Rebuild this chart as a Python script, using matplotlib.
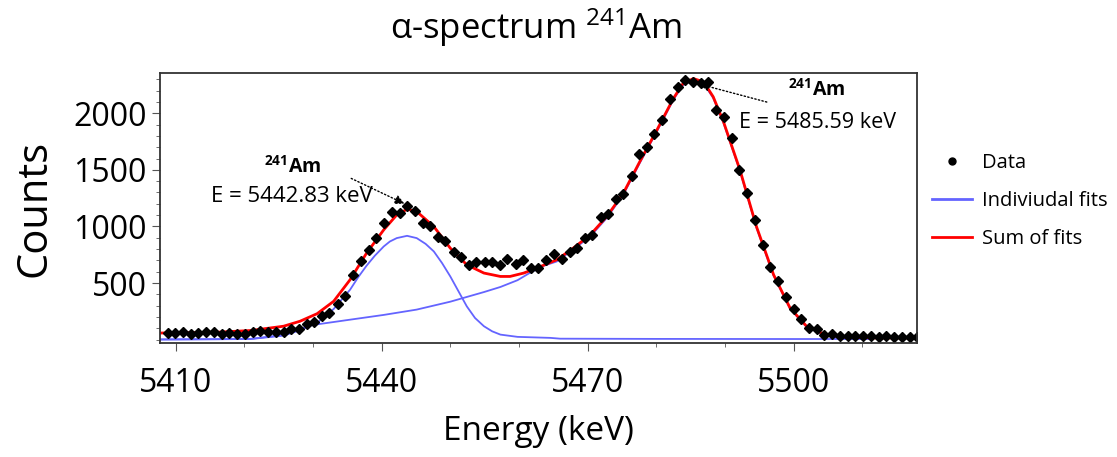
import matplotlib
matplotlib.use("Agg")
import matplotlib.pyplot as plt
from matplotlib.lines import Line2D
from matplotlib.ticker import MultipleLocator, FixedLocator

plt.rcParams['font.family'] = ['Open Sans', 'DejaVu Sans']
plt.rcParams['mathtext.fontset'] = 'custom'
plt.rcParams['mathtext.rm'] = 'Open Sans'
plt.rcParams['mathtext.bf'] = 'Open Sans:bold'
plt.rcParams['mathtext.default'] = 'regular'

# measured spectrum (channel energy in keV, counts)
energy = [5408.8, 5409.9, 5411.1, 5412.2, 5413.3, 5414.4, 5415.6, 5416.7, 5417.8, 5418.9,
          5420.1, 5421.2, 5422.3, 5423.4, 5424.6, 5425.7, 5426.8, 5427.9, 5429.1, 5430.2,
          5431.3, 5432.4, 5433.6, 5434.7, 5435.8, 5437.0, 5438.1, 5439.2, 5440.3, 5441.5,
          5442.6, 5443.7, 5444.8, 5446.0, 5447.1, 5448.2, 5449.3, 5450.5, 5451.6, 5452.7,
          5453.8, 5455.0, 5456.1, 5457.2, 5458.3, 5459.5, 5460.6, 5461.7, 5462.8, 5464.0,
          5465.1, 5466.2, 5467.4, 5468.5, 5469.6, 5470.7, 5471.9, 5473.0, 5474.1, 5475.2,
          5476.4, 5477.5, 5478.6, 5479.7, 5480.9, 5482.0, 5483.1, 5484.2, 5485.4, 5486.5,
          5487.6, 5488.7, 5489.9, 5491.0, 5492.1, 5493.2, 5494.4, 5495.5, 5496.6, 5497.8,
          5498.9, 5500.0, 5501.1, 5502.3, 5503.4, 5504.5, 5505.6, 5506.8, 5507.9, 5509.0,
          5510.1, 5511.3, 5512.4, 5513.5, 5514.6, 5515.8, 5516.9, 5518.0]
counts = [59, 59, 68, 53, 59, 68, 66, 53, 59, 53,
          53, 68, 79, 70, 70, 70, 94, 94, 141, 153,
          210, 232, 312, 382, 573, 691, 788, 897, 1032, 1130,
          1122, 1180, 1137, 1028, 1008, 911, 867, 772, 729, 661,
          683, 683, 683, 663, 712, 668, 700, 632, 632, 705,
          757, 711, 775, 808, 896, 926, 1082, 1111, 1240, 1287,
          1446, 1640, 1699, 1816, 1940, 2122, 2234, 2290, 2280, 2270,
          2278, 2028, 1966, 1778, 1499, 1293, 1058, 838, 641, 520,
          373, 270, 185, 105, 90, 44, 50, 29, 33, 29,
          28, 28, 24, 28, 24, 24, 24, 24]

# first peak (individual fit)
fit1_e = [5407.7, 5416.0, 5420.9, 5425.7, 5428.1, 5430.6, 5433.0, 5435.4, 5436.6, 5437.8,
          5439.0, 5440.3, 5441.2, 5442.2, 5443.7, 5445.1, 5446.4, 5447.6, 5448.8, 5450.0,
          5451.2, 5452.4, 5453.6, 5454.9, 5456.1, 5457.3, 5459.8, 5464.6, 5466.0, 5480.0,
          5500.0, 5511.5]
fit1_y = [2, 3, 5, 35, 82, 147, 270, 441, 553, 653,
          741, 823, 867, 897, 917, 897, 846, 779, 676, 558,
          426, 294, 191, 118, 73, 44, 24, 15, 8, 6,
          5, 5]

# second peak (individual fit)
fit2_e = [5407.7, 5420.9, 5425.7, 5429.6, 5435.4, 5440.3, 5445.1, 5450.0, 5451.9, 5454.9,
          5457.3, 5459.8, 5461.6, 5463.5, 5465.5, 5467.9, 5470.4, 5472.8, 5475.2, 5477.6,
          5480.1, 5482.5, 5483.9, 5485.4, 5486.9, 5488.3, 5489.8, 5492.2, 5494.6, 5497.1,
          5499.5, 5501.9, 5504.3, 5506.8, 5511.5]
fit2_y = [0, 6, 41, 126, 176, 218, 265, 335, 368, 420,
          465, 525, 590, 650, 690, 795, 912, 1075, 1280, 1560,
          1840, 2120, 2250, 2295, 2265, 2135, 1915, 1490, 990, 565,
          272, 112, 45, 15, 5]

# sum of fits
sum_e = [5407.7, 5416.0, 5420.9, 5425.7, 5428.1, 5430.6, 5433.0, 5435.4, 5437.8, 5440.3,
         5442.2, 5443.7, 5445.1, 5447.6, 5450.0, 5452.4, 5454.9, 5457.3, 5458.7, 5460.7,
         5462.6, 5465.5, 5467.9, 5470.4, 5472.8, 5475.2, 5477.6, 5480.1, 5482.5, 5483.9,
         5485.4, 5486.9, 5488.3, 5489.8, 5492.2, 5494.6, 5497.1, 5499.5, 5501.9, 5504.3,
         5506.8, 5511.6, 5518.0]
sum_y = [58, 65, 80, 118, 162, 229, 338, 529, 764, 970,
         1102, 1152, 1132, 999, 808, 661, 588, 558, 558, 588,
         632, 705, 808, 926, 1088, 1293, 1572, 1852, 2131, 2263,
         2307, 2278, 2146, 1925, 1499, 999, 573, 279, 118, 53,
         24, 15, 15]

peak_labels = ["E = 5442.83 keV", "E = 5485.59 keV"]

fig = plt.figure(figsize=(11.17, 4.57), dpi=100)
ax = fig.add_axes([0.1432, 0.2495, 0.6778, 0.5905])

blue = '#6464ff'
ax.plot(fit1_e, fit1_y, color=blue, lw=1.3)
ax.plot(fit2_e, fit2_y, color=blue, lw=1.3)
ax.plot(sum_e, sum_y, color='#ff0000', lw=2)
ax.plot(energy, counts, ls='', marker='D', ms=5, color='k')

ax.set_xlim(5407.7, 5518.0)
ax.set_ylim(-30, 2355)
ax.xaxis.set_major_locator(FixedLocator([5410, 5440, 5470, 5500]))
ax.xaxis.set_minor_locator(MultipleLocator(10))
ax.yaxis.set_major_locator(FixedLocator([500, 1000, 1500, 2000]))
ax.yaxis.set_minor_locator(MultipleLocator(100))
ax.tick_params(axis='both', which='major', labelsize=23, length=6, color='#555555')
ax.tick_params(axis='both', which='minor', length=3, color='#555555')
ax.tick_params(axis='x', pad=11)
for sp in ax.spines.values():
    sp.set_color('#333333')
    sp.set_linewidth(1.3)

ax.set_xlabel("Energy (keV)", fontsize=24, labelpad=11)
ax.set_ylabel("Counts", fontsize=30, labelpad=13)
fig.text(0.48, 0.94, r"α-spectrum $^{241}$Am", fontsize=25, ha='center', va='center')

# peak annotations
ax.text(5427.0, 1526, r"$^{241}$Am", fontsize=14, fontweight='bold', ha='center', va='center')
ax.text(5426.9, 1261, peak_labels[0], fontsize=16, ha='center', va='center')
ax.annotate("", xy=(5443.7, 1190), xytext=(5435.2, 1435),
            arrowprops=dict(arrowstyle='-|>', ls=':', color='k', lw=1, mutation_scale=14))
ax.text(5503.4, 2205, r"$^{241}$Am", fontsize=14, fontweight='bold', ha='center', va='center')
ax.text(5503.5, 1922, peak_labels[1], fontsize=15.5, ha='center', va='center')
ax.annotate("", xy=(5485.9, 2264), xytext=(5496.5, 2093),
            arrowprops=dict(arrowstyle='-|>', ls=':', color='k', lw=1, mutation_scale=14))

handles = [Line2D([], [], ls='', marker='o', ms=5, color='k'),
           Line2D([], [], color=blue, lw=2),
           Line2D([], [], color='#ff0000', lw=2)]
fig.legend(handles, ["Data", "Indiviudal fits", "Sum of fits"], loc='upper left',
           bbox_to_anchor=(0.818, 0.705), frameon=False, fontsize=14.5,
           handlelength=2.0, labelspacing=0.9, handletextpad=0.5)

fig.savefig("out.png", dpi=100)
